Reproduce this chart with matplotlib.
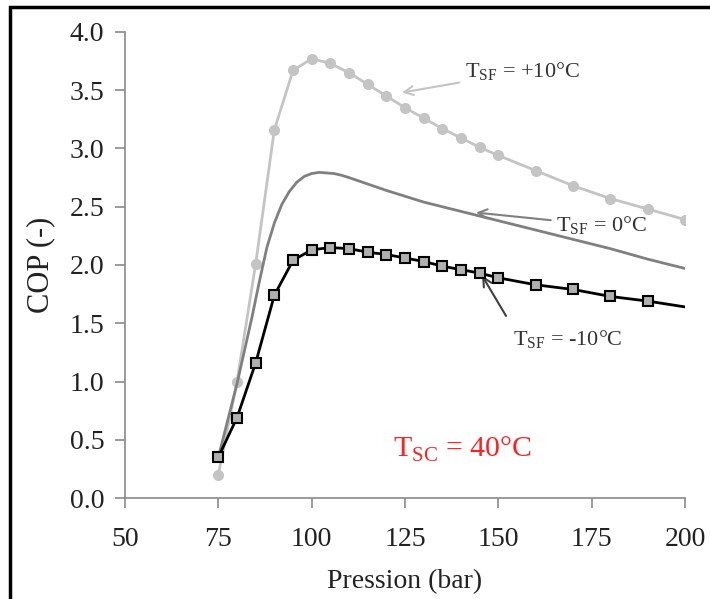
import numpy as np
import matplotlib
matplotlib.use("Agg")
import matplotlib.pyplot as plt
import matplotlib as mpl

mpl.rcParams['font.family'] = ['Liberation Serif', 'DejaVu Serif']
mpl.rcParams['mathtext.fontset'] = 'custom'
mpl.rcParams['mathtext.rm'] = 'Liberation Serif'
mpl.rcParams['font.size'] = 20

# donnees
p_plus10 = [75, 80, 85, 90, 95, 100, 105, 110, 115, 120, 125, 130, 135, 140, 145, 150, 160, 170, 180, 190, 200]
cop_plus10 = [0.20, 1.00, 2.01, 3.16, 3.67, 3.77, 3.73, 3.65, 3.55, 3.45, 3.35, 3.26, 3.17, 3.09, 3.01, 2.94, 2.81, 2.68, 2.57, 2.48, 2.39]

p_zero = [75, 80, 84, 86, 88, 90, 92, 94, 96, 98, 100, 102, 104, 106, 108, 110, 115, 120, 125, 130, 140, 150, 160, 170, 180, 190, 200]
cop_zero = [0.35, 0.98, 1.55, 1.86, 2.15, 2.36, 2.52, 2.63, 2.71, 2.76, 2.785, 2.795, 2.79, 2.785, 2.77, 2.75, 2.695, 2.64, 2.59, 2.54, 2.46, 2.38, 2.30, 2.22, 2.14, 2.05, 1.97]

p_minus10 = [75, 80, 85, 90, 95, 100, 105, 110, 115, 120, 125, 130, 135, 140, 145, 150, 160, 170, 180, 190, 200]
cop_minus10 = [0.35, 0.69, 1.16, 1.74, 2.04, 2.13, 2.15, 2.14, 2.11, 2.09, 2.06, 2.03, 1.99, 1.96, 1.93, 1.89, 1.83, 1.79, 1.73, 1.69, 1.64]

xticks = [50, 75, 100, 125, 150, 175, 200]
yticks = [0.0, 0.5, 1.0, 1.5, 2.0, 2.5, 3.0, 3.5, 4.0]

fig = plt.figure(figsize=(7.1, 5.99), dpi=100)
ax = fig.add_axes([0.176, 0.1686, 0.789, 0.778])

# cadre noir autour de la figure (gauche et haut)
fig.add_artist(plt.Rectangle((0.014, -0.1), 1.2, 1.088, transform=fig.transFigure,
                             fill=False, edgecolor='black', linewidth=2.5))

ax.plot(p_plus10, cop_plus10, color='#c4c4c4', lw=2, marker='o', ms=7,
        mfc='#c4c4c4', mec='#c4c4c4', zorder=2)
ax.plot(p_zero, cop_zero, color='#808080', lw=2, zorder=3)
ax.plot(p_minus10, cop_minus10, color='black', lw=2, marker='s', ms=7,
        mfc='#b0b0b0', mec='black', mew=1.5, markevery=slice(0, -1), zorder=4)

ax.set_xlim(50, 200)
ax.set_ylim(0, 4.0)
ax.set_xticks(xticks)
ax.set_yticks(yticks)
ax.set_yticklabels(['%.1f' % v for v in yticks])
for s in ['top', 'right']:
    ax.spines[s].set_visible(False)
for s in ['left', 'bottom']:
    ax.spines[s].set_color('#8a8a8a')
    ax.spines[s].set_linewidth(1.2)
ax.tick_params(direction='out', length=7, width=1.2, color='#8a8a8a',
               labelsize=20, labelcolor='#222222')
ax.tick_params(axis='x', pad=14)
ax.tick_params(axis='y', pad=8)
ax.set_xlabel('Pression (bar)', fontsize=20, color='#222222', labelpad=12)
ax.set_ylabel('COP (-)', fontsize=22, color='#222222', labelpad=10)

ax.annotate('T$_{\\rm SF}$ = +10°C', xy=(124.2, 3.48), xytext=(141, 3.66),
            fontsize=16, color='#333333', va='center',
            arrowprops=dict(arrowstyle='->', color='#c4c4c4', lw=1.5,
                            shrinkA=2, shrinkB=0))
ax.annotate('T$_{\\rm SF}$ = 0°C', xy=(144, 2.45), xytext=(165.5, 2.34),
            fontsize=16, color='#333333', va='center',
            arrowprops=dict(arrowstyle='->', color='#808080', lw=1.5,
                            shrinkA=2, shrinkB=0))
ax.annotate('T$_{\\rm SF}$ = -10°C', xy=(145.6, 1.91), xytext=(154, 1.36),
            fontsize=16, color='#333333', va='center',
            arrowprops=dict(arrowstyle='->', color='#404040', lw=1.5,
                            shrinkA=8, shrinkB=0, relpos=(0.0, 1.0)))
ax.text(121.8, 0.42, 'T$_{\\rm SC}$ = 40°C', fontsize=21.5, color='#ff2020', va='center')

fig.savefig('out.png', dpi=100)
